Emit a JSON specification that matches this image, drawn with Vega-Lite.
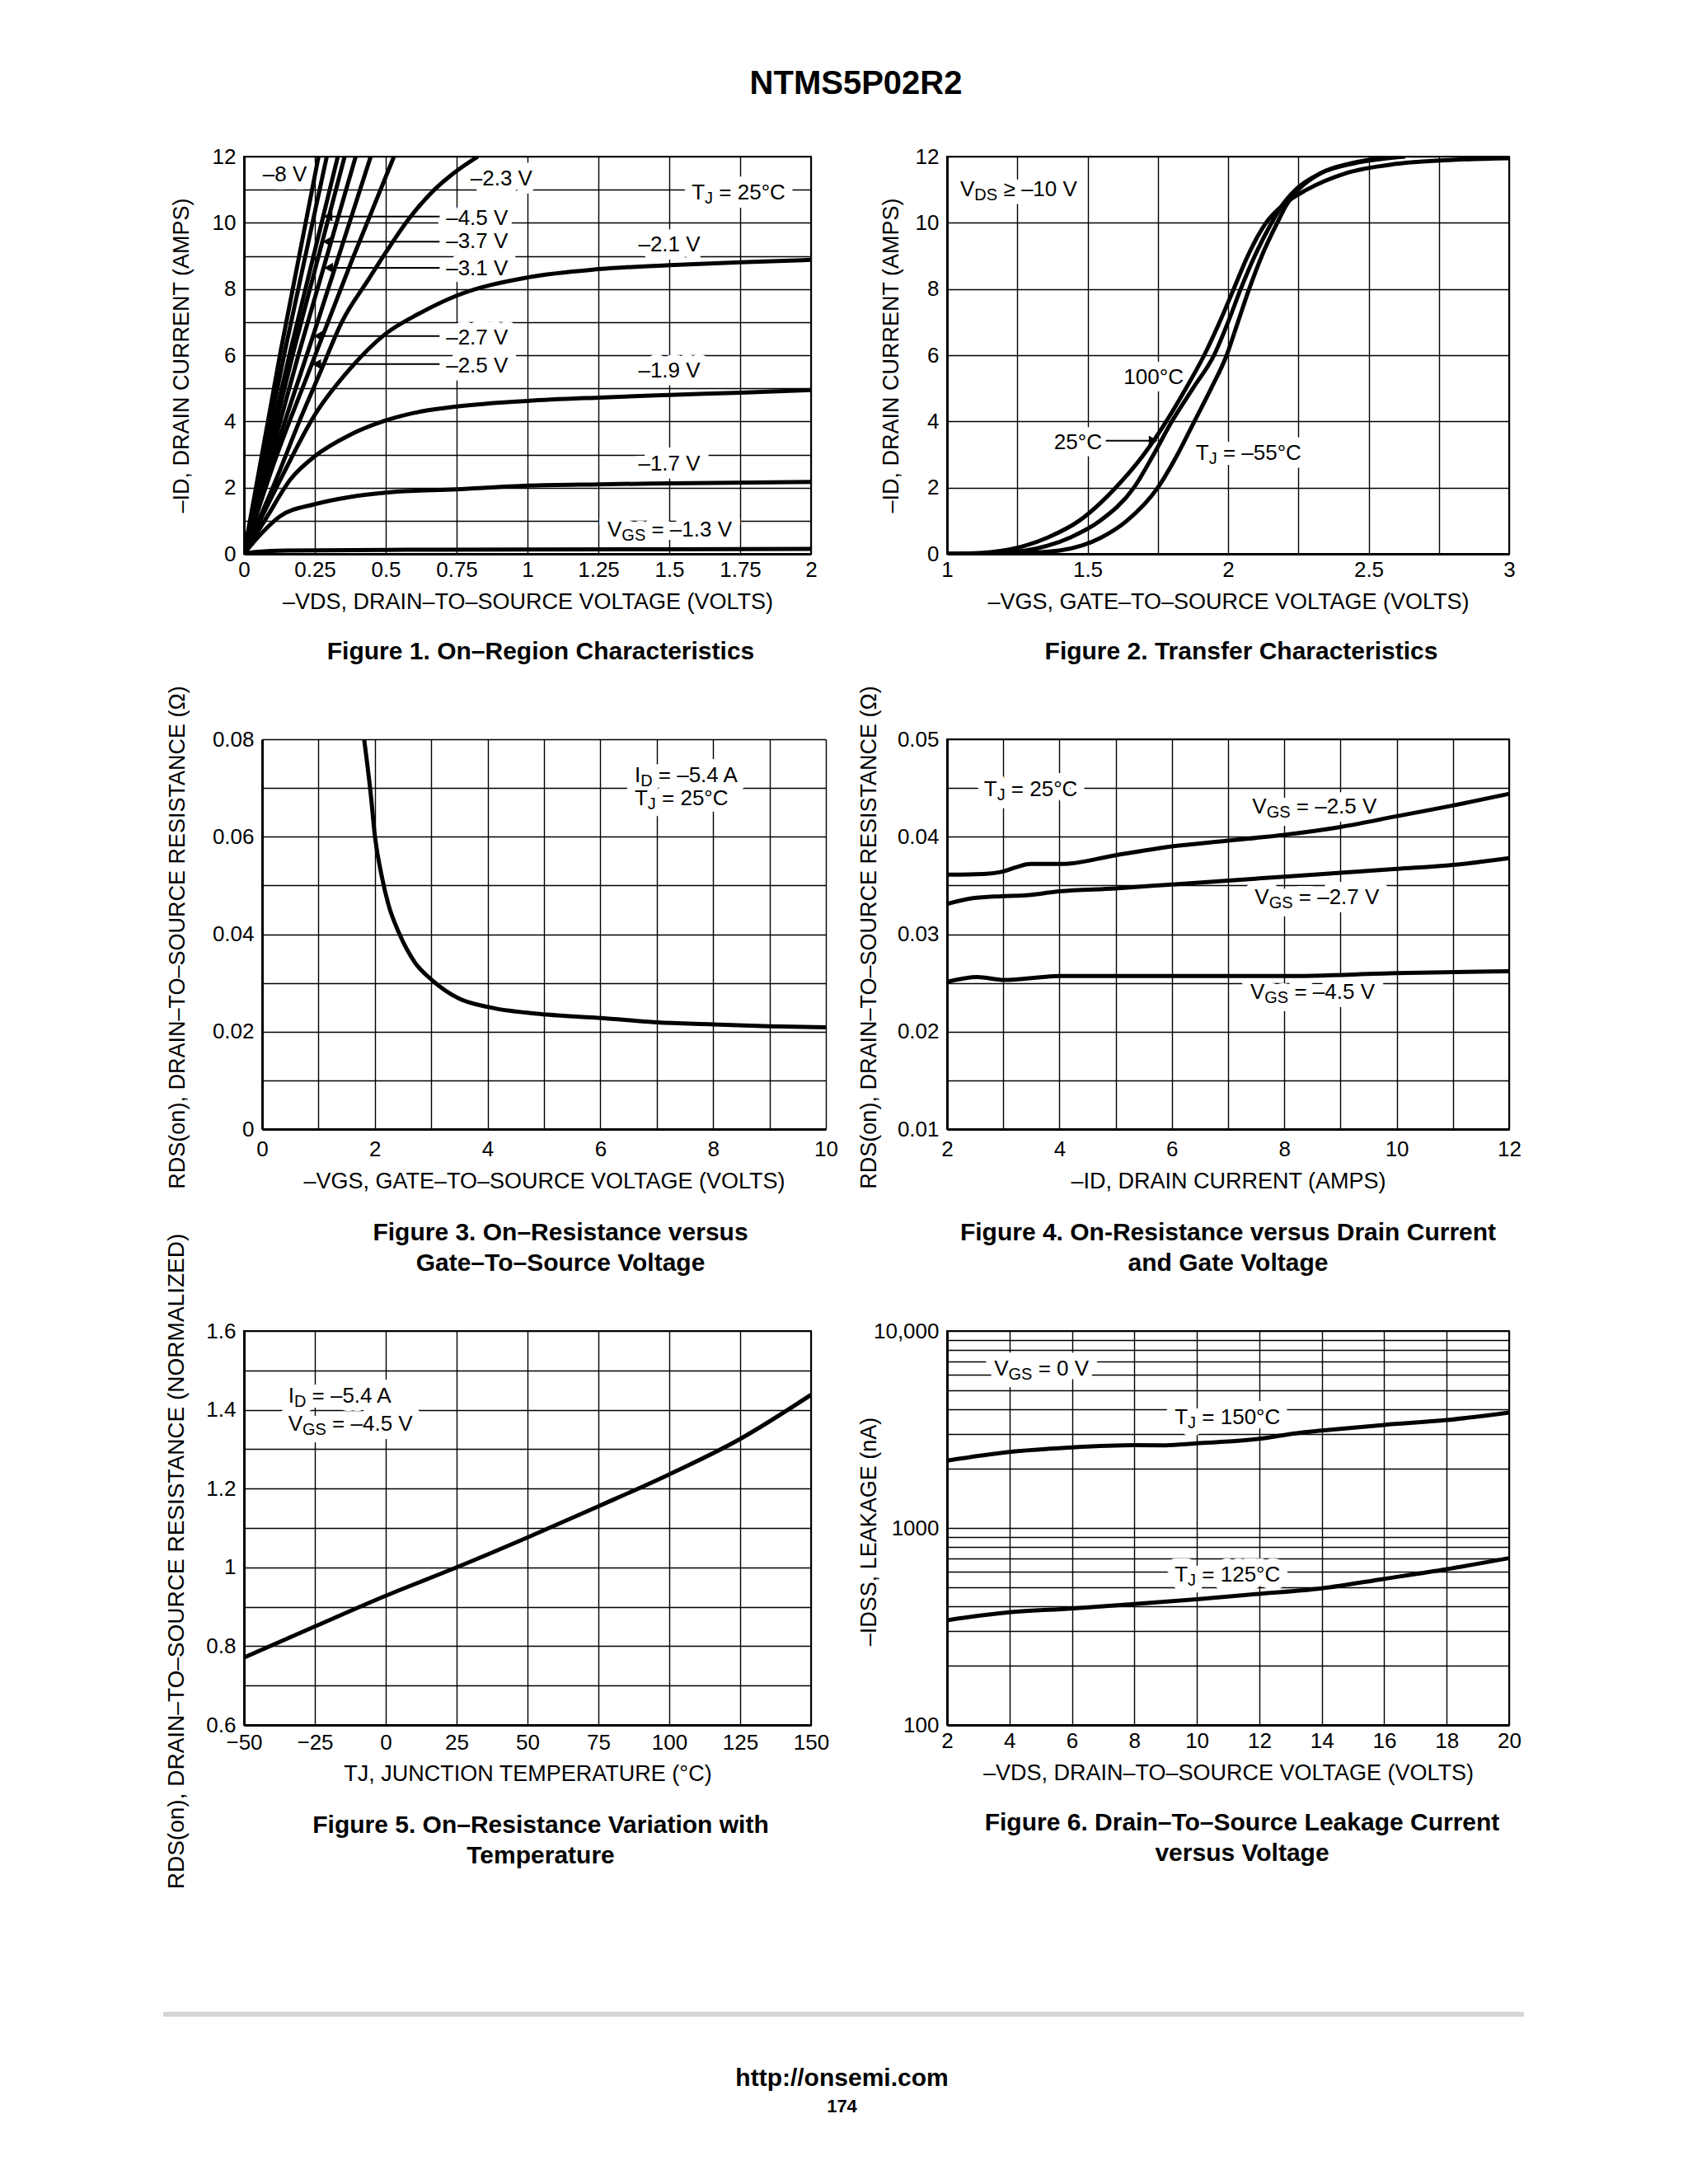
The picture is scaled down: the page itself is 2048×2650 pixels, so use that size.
{
  "$schema": "https://vega.github.io/schema/vega-lite/v6.json",
  "background": "white",
  "autosize": {"type": "pad"},
  "padding": {"left": 198, "top": 82, "right": 10, "bottom": 10},
  "title": {"text": "NTMS5P02R2", "fontSize": 40, "fontWeight": "bold", "anchor": "middle", "offset": 54, "dx": 15},
  "columns": 4,
  "spacing": 0,
  "bounds": "flush",
  "align": "each",
  "datasets": {
    "f1": [
      {"s": "-8", "x": 0, "y": 0}, {"s": "-8", "x": 0.13, "y": 6.15}, {"s": "-8", "x": 0.263, "y": 12},
      {"s": "-6", "x": 0, "y": 0}, {"s": "-6", "x": 0.145, "y": 6.15}, {"s": "-6", "x": 0.292, "y": 12},
      {"s": "-4.5", "x": 0, "y": 0}, {"s": "-4.5", "x": 0.164, "y": 6.15}, {"s": "-4.5", "x": 0.331, "y": 12},
      {"s": "-3.7", "x": 0, "y": 0}, {"s": "-3.7", "x": 0.176, "y": 6.15}, {"s": "-3.7", "x": 0.355, "y": 12},
      {"s": "-3.1", "x": 0, "y": 0}, {"s": "-3.1", "x": 0.195, "y": 6.1}, {"s": "-3.1", "x": 0.394, "y": 12},
      {"s": "-2.7", "x": 0, "y": 0}, {"s": "-2.7", "x": 0.12, "y": 3.35}, {"s": "-2.7", "x": 0.25, "y": 6.75}, {"s": "-2.7", "x": 0.447, "y": 12},
      {"s": "-2.5", "x": 0, "y": 0}, {"s": "-2.5", "x": 0.1, "y": 2.6}, {"s": "-2.5", "x": 0.24, "y": 5.75}, {"s": "-2.5", "x": 0.38, "y": 8.85}, {"s": "-2.5", "x": 0.529, "y": 12},
      {"s": "-2.3", "x": 0, "y": 0}, {"s": "-2.3", "x": 0.116, "y": 2.3}, {"s": "-2.3", "x": 0.2, "y": 4.1}, {"s": "-2.3", "x": 0.27, "y": 5.5}, {"s": "-2.3", "x": 0.345, "y": 7.0}, {"s": "-2.3", "x": 0.44, "y": 8.3}, {"s": "-2.3", "x": 0.5, "y": 9.1}, {"s": "-2.3", "x": 0.58, "y": 10.1}, {"s": "-2.3", "x": 0.66, "y": 10.9}, {"s": "-2.3", "x": 0.74, "y": 11.5}, {"s": "-2.3", "x": 0.825, "y": 12},
      {"s": "-2.1", "x": 0, "y": 0}, {"s": "-2.1", "x": 0.132, "y": 2.3}, {"s": "-2.1", "x": 0.25, "y": 4.2}, {"s": "-2.1", "x": 0.375, "y": 5.6}, {"s": "-2.1", "x": 0.5, "y": 6.65}, {"s": "-2.1", "x": 0.616, "y": 7.25}, {"s": "-2.1", "x": 0.75, "y": 7.8}, {"s": "-2.1", "x": 1, "y": 8.35}, {"s": "-2.1", "x": 1.25, "y": 8.6}, {"s": "-2.1", "x": 1.5, "y": 8.72}, {"s": "-2.1", "x": 1.75, "y": 8.81}, {"s": "-2.1", "x": 2, "y": 8.88},
      {"s": "-1.9", "x": 0, "y": 0}, {"s": "-1.9", "x": 0.08, "y": 1.1}, {"s": "-1.9", "x": 0.166, "y": 2.27}, {"s": "-1.9", "x": 0.25, "y": 2.95}, {"s": "-1.9", "x": 0.375, "y": 3.6}, {"s": "-1.9", "x": 0.5, "y": 4.03}, {"s": "-1.9", "x": 0.625, "y": 4.3}, {"s": "-1.9", "x": 0.75, "y": 4.45}, {"s": "-1.9", "x": 1, "y": 4.62}, {"s": "-1.9", "x": 1.25, "y": 4.72}, {"s": "-1.9", "x": 1.5, "y": 4.8}, {"s": "-1.9", "x": 1.75, "y": 4.87}, {"s": "-1.9", "x": 2, "y": 4.95},
      {"s": "-1.7", "x": 0, "y": 0}, {"s": "-1.7", "x": 0.06, "y": 0.6}, {"s": "-1.7", "x": 0.128, "y": 1.14}, {"s": "-1.7", "x": 0.25, "y": 1.5}, {"s": "-1.7", "x": 0.375, "y": 1.72}, {"s": "-1.7", "x": 0.5, "y": 1.85}, {"s": "-1.7", "x": 0.75, "y": 1.95}, {"s": "-1.7", "x": 1, "y": 2.06}, {"s": "-1.7", "x": 1.25, "y": 2.1}, {"s": "-1.7", "x": 1.5, "y": 2.13}, {"s": "-1.7", "x": 2, "y": 2.17},
      {"s": "-1.3", "x": 0, "y": 0}, {"s": "-1.3", "x": 0.05, "y": 0.06}, {"s": "-1.3", "x": 0.15, "y": 0.1}, {"s": "-1.3", "x": 0.5, "y": 0.12}, {"s": "-1.3", "x": 1, "y": 0.13}, {"s": "-1.3", "x": 2, "y": 0.15}
    ],
    "f1lead": [
      {"x": 0.279, "x2": 0.69, "y": 10.19},
      {"x": 0.276, "x2": 0.69, "y": 9.43},
      {"x": 0.281, "x2": 0.69, "y": 8.64},
      {"x": 0.244, "x2": 0.69, "y": 6.58},
      {"x": 0.239, "x2": 0.69, "y": 5.73}
    ],
    "f1text": [
      {"x": 0.144, "y": 11.45, "t": "–8 V"},
      {"x": 0.908, "y": 11.33, "t": "–2.3 V"},
      {"x": 0.822, "y": 10.14, "t": "–4.5 V"},
      {"x": 0.822, "y": 9.43, "t": "–3.7 V"},
      {"x": 0.822, "y": 8.62, "t": "–3.1 V"},
      {"x": 1.5, "y": 9.33, "t": "–2.1 V"},
      {"x": 0.822, "y": 6.52, "t": "–2.7 V"},
      {"x": 0.822, "y": 5.67, "t": "–2.5 V"},
      {"x": 1.5, "y": 5.52, "t": "–1.9 V"},
      {"x": 1.5, "y": 2.71, "t": "–1.7 V"}
    ],
    "f1s": [
      {"x": 1.282, "y": 0.71, "t": "V", "p": "m"}, {"x": 1.3324, "y": 0.71, "t": "GS", "p": "s"}, {"x": 1.4374, "y": 0.71, "t": "= –1.3 V", "p": "m"},
      {"x": 1.579, "y": 10.9, "t": "T", "p": "m"}, {"x": 1.6252, "y": 10.9, "t": "J", "p": "s"}, {"x": 1.6753, "y": 10.9, "t": "= 25°C", "p": "m"}
    ],
    "f2": [
      {"s": "100", "x": 1.0, "y": 0}, {"s": "100", "x": 1.1, "y": 0.02}, {"s": "100", "x": 1.2, "y": 0.1}, {"s": "100", "x": 1.28, "y": 0.25}, {"s": "100", "x": 1.36, "y": 0.5}, {"s": "100", "x": 1.47, "y": 1.0}, {"s": "100", "x": 1.6, "y": 2.0}, {"s": "100", "x": 1.7, "y": 3.0}, {"s": "100", "x": 1.78, "y": 4.0}, {"s": "100", "x": 1.85, "y": 5.0}, {"s": "100", "x": 1.915, "y": 6.0}, {"s": "100", "x": 1.97, "y": 7.0}, {"s": "100", "x": 2.02, "y": 8.0}, {"s": "100", "x": 2.07, "y": 9.0}, {"s": "100", "x": 2.135, "y": 10.0}, {"s": "100", "x": 2.19, "y": 10.5}, {"s": "100", "x": 2.28, "y": 11.0}, {"s": "100", "x": 2.42, "y": 11.5}, {"s": "100", "x": 2.6, "y": 11.78}, {"s": "100", "x": 2.8, "y": 11.9}, {"s": "100", "x": 3.0, "y": 11.95},
      {"s": "25", "x": 1.0, "y": 0}, {"s": "25", "x": 1.15, "y": 0.02}, {"s": "25", "x": 1.28, "y": 0.1}, {"s": "25", "x": 1.36, "y": 0.25}, {"s": "25", "x": 1.44, "y": 0.5}, {"s": "25", "x": 1.545, "y": 1.0}, {"s": "25", "x": 1.665, "y": 2.0}, {"s": "25", "x": 1.735, "y": 3.0}, {"s": "25", "x": 1.8, "y": 4.0}, {"s": "25", "x": 1.875, "y": 5.0}, {"s": "25", "x": 1.95, "y": 6.0}, {"s": "25", "x": 2.0, "y": 7.0}, {"s": "25", "x": 2.045, "y": 8.0}, {"s": "25", "x": 2.095, "y": 9.0}, {"s": "25", "x": 2.155, "y": 10.0}, {"s": "25", "x": 2.19, "y": 10.5}, {"s": "25", "x": 2.24, "y": 11.0}, {"s": "25", "x": 2.33, "y": 11.5}, {"s": "25", "x": 2.45, "y": 11.8}, {"s": "25", "x": 2.63, "y": 12.0},
      {"s": "-55", "x": 1.0, "y": 0}, {"s": "-55", "x": 1.25, "y": 0.02}, {"s": "-55", "x": 1.4, "y": 0.1}, {"s": "-55", "x": 1.48, "y": 0.25}, {"s": "-55", "x": 1.55, "y": 0.5}, {"s": "-55", "x": 1.64, "y": 1.0}, {"s": "-55", "x": 1.75, "y": 2.0}, {"s": "-55", "x": 1.82, "y": 3.0}, {"s": "-55", "x": 1.88, "y": 4.0}, {"s": "-55", "x": 1.94, "y": 5.0}, {"s": "-55", "x": 1.995, "y": 6.0}, {"s": "-55", "x": 2.035, "y": 7.0}, {"s": "-55", "x": 2.075, "y": 8.0}, {"s": "-55", "x": 2.12, "y": 9.0}, {"s": "-55", "x": 2.175, "y": 10.0}, {"s": "-55", "x": 2.205, "y": 10.5}, {"s": "-55", "x": 2.25, "y": 11.0}, {"s": "-55", "x": 2.33, "y": 11.5}, {"s": "-55", "x": 2.44, "y": 11.8}, {"s": "-55", "x": 2.6, "y": 12.0}
    ],
    "f2lead": [{"x": 1.565, "x2": 1.745, "y": 3.42}],
    "f2arrow": [{"x": 1.751, "y": 3.42}],
    "f2text": [
      {"x": 1.735, "y": 5.32, "t": "100°C"},
      {"x": 1.466, "y": 3.37, "t": "25°C"}
    ],
    "f2s": [
      {"x": 1.047, "y": 11.0, "t": "V", "p": "m"}, {"x": 1.0978, "y": 11.0, "t": "DS", "p": "s"}, {"x": 1.2006, "y": 11.0, "t": "≥ –10 V", "p": "m"},
      {"x": 1.885, "y": 3.03, "t": "T", "p": "m"}, {"x": 1.9316, "y": 3.03, "t": "J", "p": "s"}, {"x": 1.9821, "y": 3.03, "t": "= –55°C", "p": "m"}
    ],
    "f3": [
      {"x": 1.81, "y": 0.08}, {"x": 1.93, "y": 0.0684}, {"x": 2.0, "y": 0.0602}, {"x": 2.12, "y": 0.052}, {"x": 2.24, "y": 0.0461}, {"x": 2.43, "y": 0.0402}, {"x": 2.71, "y": 0.0342}, {"x": 3.02, "y": 0.0305}, {"x": 3.49, "y": 0.0268}, {"x": 4.03, "y": 0.025}, {"x": 5.05, "y": 0.0235}, {"x": 6.02, "y": 0.0228}, {"x": 7.0, "y": 0.0219}, {"x": 8.0, "y": 0.0215}, {"x": 9.0, "y": 0.0211}, {"x": 10.0, "y": 0.0209}
    ],
    "f3s": [
      {"x": 6.607, "y": 0.0726, "t": "I", "p": "m"}, {"x": 6.7127, "y": 0.0726, "t": "D", "p": "s"}, {"x": 7.0289, "y": 0.0726, "t": "= –5.4 A", "p": "m"},
      {"x": 6.607, "y": 0.0678, "t": "T", "p": "m"}, {"x": 6.8393, "y": 0.0678, "t": "J", "p": "s"}, {"x": 7.0912, "y": 0.0678, "t": "= 25°C", "p": "m"}
    ],
    "f4": [
      {"s": "-2.5", "x": 2, "y": 0.0361}, {"s": "-2.5", "x": 2.7, "y": 0.0362}, {"s": "-2.5", "x": 2.97, "y": 0.0364}, {"s": "-2.5", "x": 3.25, "y": 0.0369}, {"s": "-2.5", "x": 3.48, "y": 0.0372}, {"s": "-2.5", "x": 4.04, "y": 0.0372}, {"s": "-2.5", "x": 5.0, "y": 0.0381}, {"s": "-2.5", "x": 6.0, "y": 0.039}, {"s": "-2.5", "x": 7.0, "y": 0.0396}, {"s": "-2.5", "x": 8.0, "y": 0.0402}, {"s": "-2.5", "x": 9.0, "y": 0.041}, {"s": "-2.5", "x": 10.0, "y": 0.0421}, {"s": "-2.5", "x": 11.0, "y": 0.0432}, {"s": "-2.5", "x": 12, "y": 0.0444},
      {"s": "-2.7", "x": 2, "y": 0.0331}, {"s": "-2.7", "x": 2.46, "y": 0.0337}, {"s": "-2.7", "x": 2.97, "y": 0.0339}, {"s": "-2.7", "x": 3.41, "y": 0.034}, {"s": "-2.7", "x": 4.0, "y": 0.0344}, {"s": "-2.7", "x": 5.0, "y": 0.0347}, {"s": "-2.7", "x": 6.0, "y": 0.0351}, {"s": "-2.7", "x": 7.0, "y": 0.0355}, {"s": "-2.7", "x": 8.0, "y": 0.0359}, {"s": "-2.7", "x": 9.0, "y": 0.0363}, {"s": "-2.7", "x": 10.0, "y": 0.0367}, {"s": "-2.7", "x": 11.0, "y": 0.0371}, {"s": "-2.7", "x": 12, "y": 0.0378},
      {"s": "-4.5", "x": 2, "y": 0.0251}, {"s": "-4.5", "x": 2.54, "y": 0.0256}, {"s": "-4.5", "x": 3.01, "y": 0.0253}, {"s": "-4.5", "x": 4.0, "y": 0.0257}, {"s": "-4.5", "x": 6.0, "y": 0.0257}, {"s": "-4.5", "x": 8.0, "y": 0.0257}, {"s": "-4.5", "x": 10.0, "y": 0.026}, {"s": "-4.5", "x": 12, "y": 0.0262}
    ],
    "f4s": [
      {"x": 2.656, "y": 0.0448, "t": "T", "p": "m"}, {"x": 2.889, "y": 0.0448, "t": "J", "p": "s"}, {"x": 3.1416, "y": 0.0448, "t": "= 25°C", "p": "m"},
      {"x": 7.43, "y": 0.0431, "t": "V", "p": "m"}, {"x": 7.6843, "y": 0.0431, "t": "GS", "p": "s"}, {"x": 8.214, "y": 0.0431, "t": "= –2.5 V", "p": "m"},
      {"x": 7.474, "y": 0.0338, "t": "V", "p": "m"}, {"x": 7.7283, "y": 0.0338, "t": "GS", "p": "s"}, {"x": 8.258, "y": 0.0338, "t": "= –2.7 V", "p": "m"},
      {"x": 7.395, "y": 0.024, "t": "V", "p": "m"}, {"x": 7.6493, "y": 0.024, "t": "GS", "p": "s"}, {"x": 8.179, "y": 0.024, "t": "= –4.5 V", "p": "m"}
    ],
    "f5": [
      {"x": -50, "y": 0.771}, {"x": -25, "y": 0.85}, {"x": 0, "y": 0.928}, {"x": 25, "y": 1.0}, {"x": 50, "y": 1.076}, {"x": 75, "y": 1.155}, {"x": 100, "y": 1.236}, {"x": 125, "y": 1.326}, {"x": 150, "y": 1.438}
    ],
    "f5s": [
      {"x": -34.4, "y": 1.434, "t": "I", "p": "m"}, {"x": -32.3, "y": 1.434, "t": "D", "p": "s"}, {"x": -26.01, "y": 1.434, "t": "= –5.4 A", "p": "m"},
      {"x": -34.4, "y": 1.364, "t": "V", "p": "m"}, {"x": -29.36, "y": 1.364, "t": "GS", "p": "s"}, {"x": -18.86, "y": 1.364, "t": "= –4.5 V", "p": "m"}
    ],
    "f6": [
      {"s": "150", "x": 2, "y": 2198}, {"s": "150", "x": 4, "y": 2432}, {"s": "150", "x": 6, "y": 2564}, {"s": "150", "x": 8, "y": 2632}, {"s": "150", "x": 9, "y": 2630}, {"s": "150", "x": 10, "y": 2692}, {"s": "150", "x": 11.4, "y": 2776}, {"s": "150", "x": 12, "y": 2838}, {"s": "150", "x": 13.2, "y": 3030}, {"s": "150", "x": 14, "y": 3123}, {"s": "150", "x": 16, "y": 3337}, {"s": "150", "x": 18, "y": 3530}, {"s": "150", "x": 20, "y": 3855},
      {"s": "125", "x": 2, "y": 340}, {"s": "125", "x": 4, "y": 373}, {"s": "125", "x": 6, "y": 390}, {"s": "125", "x": 8, "y": 411}, {"s": "125", "x": 10, "y": 435}, {"s": "125", "x": 12, "y": 463}, {"s": "125", "x": 14, "y": 494}, {"s": "125", "x": 16, "y": 552}, {"s": "125", "x": 18, "y": 618}, {"s": "125", "x": 20, "y": 703}
    ],
    "f6s": [
      {"x": 3.51, "y": 6397, "t": "V", "p": "m"}, {"x": 3.9676, "y": 6397, "t": "GS", "p": "s"}, {"x": 4.9212, "y": 6397, "t": "= 0 V", "p": "m"},
      {"x": 9.29, "y": 3642, "t": "T", "p": "m"}, {"x": 9.7094, "y": 3642, "t": "J", "p": "s"}, {"x": 10.1641, "y": 3642, "t": "= 150°C", "p": "m"},
      {"x": 9.29, "y": 580, "t": "T", "p": "m"}, {"x": 9.7094, "y": 580, "t": "J", "p": "s"}, {"x": 10.1641, "y": 580, "t": "= 125°C", "p": "m"}
    ]
  },
  "concat": [
    {"width": 98, "height": 707, "data": {"values": []}, "mark": "point", "encoding": {}},
    {
      "width": 688, "height": 482,
      "view": {"stroke": "black", "strokeWidth": 2},
      "title": {"text": "Figure 1. On–Region Characteristics", "orient": "bottom", "anchor": "middle", "frame": "group", "offset": 33, "dx": 16},
      "encoding": {
        "x": {"field": "x", "type": "quantitative", "scale": {"domain": [0, 2], "nice": false, "zero": false},
              "axis": {"title": "–VDS, DRAIN–TO–SOURCE VOLTAGE (VOLTS)", "values": [0, 0.25, 0.5, 0.75, 1, 1.25, 1.5, 1.75, 2], "labelExpr": "format(datum.value, '~g')", "titleY": 58}},
        "y": {"field": "y", "type": "quantitative", "scale": {"domain": [0, 12], "nice": false},
              "axis": {"title": "–ID, DRAIN CURRENT (AMPS)", "values": [0, 1, 2, 3, 4, 5, 6, 7, 8, 9, 10, 11, 12], "labelExpr": "datum.value % 2 == 0 ? format(datum.value, '~g') : ''", "titleX": -76, "titleY": 241}}
      },
      "layer": [
        {"data": {"name": "f1text"}, "mark": {"type": "text", "fontSize": 26, "color": "white", "stroke": "white", "strokeWidth": 20, "strokeJoin": "round"}, "encoding": {"text": {"field": "t"}}},
        {"data": {"name": "f1s"}, "transform": [{"filter": "datum.p == 'm'"}], "mark": {"type": "text", "align": "left", "fontSize": 26, "color": "white", "stroke": "white", "strokeWidth": 20, "strokeJoin": "round"}, "encoding": {"text": {"field": "t"}}},
        {"data": {"name": "f1s"}, "transform": [{"filter": "datum.p == 's'"}], "mark": {"type": "text", "align": "left", "dy": 7, "fontSize": 20, "color": "white", "stroke": "white", "strokeWidth": 20, "strokeJoin": "round"}, "encoding": {"text": {"field": "t"}}},
        {"data": {"name": "f1"}, "mark": {"type": "line", "color": "black", "strokeWidth": 5, "interpolate": "monotone", "clip": true}, "encoding": {"detail": {"field": "s"}}},
        {"data": {"name": "f1lead"}, "mark": {"type": "rule", "color": "black", "strokeWidth": 2}, "encoding": {"x2": {"field": "x2"}}},
        {"data": {"name": "f1lead"}, "mark": {"type": "point", "shape": "triangle-left", "filled": true, "color": "black", "opacity": 1, "size": 150, "xOffset": 6}, "encoding": {}},
        {"data": {"name": "f1text"}, "mark": {"type": "text", "fontSize": 26, "color": "black"}, "encoding": {"text": {"field": "t"}}},
        {"data": {"name": "f1s"}, "transform": [{"filter": "datum.p == 'm'"}], "mark": {"type": "text", "align": "left", "fontSize": 26, "color": "black"}, "encoding": {"text": {"field": "t"}}},
        {"data": {"name": "f1s"}, "transform": [{"filter": "datum.p == 's'"}], "mark": {"type": "text", "align": "left", "dy": 7, "fontSize": 20, "color": "black"}, "encoding": {"text": {"field": "t"}}}
      ]
    },
    {"width": 147, "height": 1, "data": {"values": []}, "mark": "point", "encoding": {}},
    {
      "width": 682, "height": 482,
      "view": {"stroke": "black", "strokeWidth": 2},
      "title": {"text": "Figure 2. Transfer Characteristics", "orient": "bottom", "anchor": "middle", "frame": "group", "offset": 33, "dx": 16},
      "encoding": {
        "x": {"field": "x", "type": "quantitative", "scale": {"domain": [1, 3], "nice": false, "zero": false},
              "axis": {"title": "–VGS, GATE–TO–SOURCE VOLTAGE (VOLTS)", "values": [1, 1.25, 1.5, 1.75, 2, 2.25, 2.5, 2.75, 3], "labelExpr": "round(datum.value * 4) % 2 == 0 ? format(datum.value, '~g') : ''", "titleY": 58}},
        "y": {"field": "y", "type": "quantitative", "scale": {"domain": [0, 12], "nice": false},
              "axis": {"title": "–ID, DRAIN CURRENT (AMPS)", "values": [0, 2, 4, 6, 8, 10, 12], "labelExpr": "format(datum.value, '~g')", "titleX": -68, "titleY": 241}}
      },
      "layer": [
        {"data": {"name": "f2text"}, "mark": {"type": "text", "fontSize": 26, "color": "white", "stroke": "white", "strokeWidth": 20, "strokeJoin": "round"}, "encoding": {"text": {"field": "t"}}},
        {"data": {"name": "f2s"}, "transform": [{"filter": "datum.p == 'm'"}], "mark": {"type": "text", "align": "left", "fontSize": 26, "color": "white", "stroke": "white", "strokeWidth": 20, "strokeJoin": "round"}, "encoding": {"text": {"field": "t"}}},
        {"data": {"name": "f2s"}, "transform": [{"filter": "datum.p == 's'"}], "mark": {"type": "text", "align": "left", "dy": 7, "fontSize": 20, "color": "white", "stroke": "white", "strokeWidth": 20, "strokeJoin": "round"}, "encoding": {"text": {"field": "t"}}},
        {"data": {"name": "f2"}, "mark": {"type": "line", "color": "black", "strokeWidth": 5, "interpolate": "monotone", "clip": true}, "encoding": {"detail": {"field": "s"}}},
        {"data": {"name": "f2lead"}, "mark": {"type": "rule", "color": "black", "strokeWidth": 2}, "encoding": {"x2": {"field": "x2"}}},
        {"data": {"name": "f2arrow"}, "mark": {"type": "point", "shape": "triangle-right", "filled": true, "color": "black", "opacity": 1, "size": 150, "xOffset": -6}, "encoding": {}},
        {"data": {"name": "f2text"}, "mark": {"type": "text", "fontSize": 26, "color": "black"}, "encoding": {"text": {"field": "t"}}},
        {"data": {"name": "f2s"}, "transform": [{"filter": "datum.p == 'm'"}], "mark": {"type": "text", "align": "left", "fontSize": 26, "color": "black"}, "encoding": {"text": {"field": "t"}}},
        {"data": {"name": "f2s"}, "transform": [{"filter": "datum.p == 's'"}], "mark": {"type": "text", "align": "left", "dy": 7, "fontSize": 20, "color": "black"}, "encoding": {"text": {"field": "t"}}}
      ]
    },
    {"width": 98, "height": 718, "data": {"values": []}, "mark": "point", "encoding": {}},
    {
      "width": 706, "height": 473,
      "title": {"text": ["Figure 3. On–Resistance versus", "Gate–To–Source Voltage"], "orient": "bottom", "anchor": "middle", "frame": "group", "offset": 35, "dx": 31, "lineHeight": 37},
      "encoding": {
        "x": {"field": "x", "type": "quantitative", "scale": {"domain": [0, 10], "range": [22, 706], "nice": false, "zero": false},
              "axis": {"title": "–VGS, GATE–TO–SOURCE VOLTAGE (VOLTS)", "values": [0, 1, 2, 3, 4, 5, 6, 7, 8, 9, 10], "labelExpr": "datum.value % 2 == 0 ? format(datum.value, '~g') : ''", "labelPadding": 11, "titleY": 63}},
        "y": {"field": "y", "type": "quantitative", "scale": {"domain": [0, 0.08], "nice": false},
              "axis": {"title": "RDS(on), DRAIN–TO–SOURCE RESISTANCE (Ω)", "offset": -22, "values": [0, 0.01, 0.02, 0.03, 0.04, 0.05, 0.06, 0.07, 0.08], "labelExpr": "round(datum.value * 100) % 2 == 0 ? format(datum.value, '~g') : ''", "titleX": -103, "titleY": 240}}
      },
      "layer": [
        {"data": {"name": "f3s"}, "transform": [{"filter": "datum.p == 'm'"}], "mark": {"type": "text", "align": "left", "fontSize": 26, "color": "white", "stroke": "white", "strokeWidth": 20, "strokeJoin": "round"}, "encoding": {"text": {"field": "t"}}},
        {"data": {"name": "f3s"}, "transform": [{"filter": "datum.p == 's'"}], "mark": {"type": "text", "align": "left", "dy": 7, "fontSize": 20, "color": "white", "stroke": "white", "strokeWidth": 20, "strokeJoin": "round"}, "encoding": {"text": {"field": "t"}}},
        {"data": {"name": "f3"}, "mark": {"type": "line", "color": "black", "strokeWidth": 5, "interpolate": "monotone", "clip": true}, "encoding": {}},
        {"data": {"name": "f3s"}, "transform": [{"filter": "datum.p == 'm'"}], "mark": {"type": "text", "align": "left", "fontSize": 26, "color": "black"}, "encoding": {"text": {"field": "t"}}},
        {"data": {"name": "f3s"}, "transform": [{"filter": "datum.p == 's'"}], "mark": {"type": "text", "align": "left", "dy": 7, "fontSize": 20, "color": "black"}, "encoding": {"text": {"field": "t"}}}
      ]
    },
    {"width": 147, "height": 1, "data": {"values": []}, "mark": "point", "encoding": {}},
    {
      "width": 682, "height": 473,
      "view": {"stroke": "black", "strokeWidth": 2},
      "title": {"text": ["Figure 4. On-Resistance versus Drain Current", "and Gate Voltage"], "orient": "bottom", "anchor": "middle", "frame": "group", "offset": 35, "dx": 0, "lineHeight": 37},
      "encoding": {
        "x": {"field": "x", "type": "quantitative", "scale": {"domain": [2, 12], "nice": false, "zero": false},
              "axis": {"title": "–ID, DRAIN CURRENT (AMPS)", "values": [2, 3, 4, 5, 6, 7, 8, 9, 10, 11, 12], "labelExpr": "datum.value % 2 == 0 ? format(datum.value, '~g') : ''", "labelPadding": 11, "titleY": 63}},
        "y": {"field": "y", "type": "quantitative", "scale": {"domain": [0.01, 0.05], "nice": false, "zero": false},
              "axis": {"title": "RDS(on), DRAIN–TO–SOURCE RESISTANCE (Ω)", "values": [0.01, 0.015, 0.02, 0.025, 0.03, 0.035, 0.04, 0.045, 0.05], "labelExpr": "round(datum.value * 1000) % 10 == 0 ? format(datum.value, '~g') : ''", "titleX": -95, "titleY": 240}}
      },
      "layer": [
        {"data": {"name": "f4s"}, "transform": [{"filter": "datum.p == 'm'"}], "mark": {"type": "text", "align": "left", "fontSize": 26, "color": "white", "stroke": "white", "strokeWidth": 20, "strokeJoin": "round"}, "encoding": {"text": {"field": "t"}}},
        {"data": {"name": "f4s"}, "transform": [{"filter": "datum.p == 's'"}], "mark": {"type": "text", "align": "left", "dy": 7, "fontSize": 20, "color": "white", "stroke": "white", "strokeWidth": 20, "strokeJoin": "round"}, "encoding": {"text": {"field": "t"}}},
        {"data": {"name": "f4"}, "mark": {"type": "line", "color": "black", "strokeWidth": 5, "interpolate": "monotone", "clip": true}, "encoding": {"detail": {"field": "s"}}},
        {"data": {"name": "f4s"}, "transform": [{"filter": "datum.p == 'm'"}], "mark": {"type": "text", "align": "left", "fontSize": 26, "color": "black"}, "encoding": {"text": {"field": "t"}}},
        {"data": {"name": "f4s"}, "transform": [{"filter": "datum.p == 's'"}], "mark": {"type": "text", "align": "left", "dy": 7, "fontSize": 20, "color": "black"}, "encoding": {"text": {"field": "t"}}}
      ]
    },
    {"width": 98, "height": 826, "data": {"values": []}, "mark": "point", "encoding": {}},
    {
      "width": 688, "height": 478,
      "view": {"stroke": "black", "strokeWidth": 2},
      "title": {"text": ["Figure 5. On–Resistance Variation with", "Temperature"], "orient": "bottom", "anchor": "middle", "frame": "group", "offset": -92, "dx": 16, "lineHeight": 37},
      "encoding": {
        "x": {"field": "x", "type": "quantitative", "scale": {"domain": [-50, 150], "nice": false, "zero": false},
              "axis": {"title": "TJ, JUNCTION TEMPERATURE (°C)", "values": [-50, -25, 0, 25, 50, 75, 100, 125, 150], "labelExpr": "format(datum.value, '~g')", "labelPadding": 8, "titleY": 59}},
        "y": {"field": "y", "type": "quantitative", "scale": {"domain": [0.6, 1.6], "nice": false, "zero": false},
              "axis": {"title": "RDS(on), DRAIN–TO–SOURCE RESISTANCE (NORMALIZED)", "titleFontSize": 28, "values": [0.6, 0.7, 0.8, 0.9, 1, 1.1, 1.2, 1.3, 1.4, 1.5, 1.6], "labelExpr": "round(datum.value * 10) % 2 == 0 ? format(datum.value, '~g') : ''", "titleX": -82, "titleY": 279}}
      },
      "layer": [
        {"data": {"name": "f5s"}, "transform": [{"filter": "datum.p == 'm'"}], "mark": {"type": "text", "align": "left", "fontSize": 26, "color": "white", "stroke": "white", "strokeWidth": 20, "strokeJoin": "round"}, "encoding": {"text": {"field": "t"}}},
        {"data": {"name": "f5s"}, "transform": [{"filter": "datum.p == 's'"}], "mark": {"type": "text", "align": "left", "dy": 7, "fontSize": 20, "color": "white", "stroke": "white", "strokeWidth": 20, "strokeJoin": "round"}, "encoding": {"text": {"field": "t"}}},
        {"data": {"name": "f5"}, "mark": {"type": "line", "color": "black", "strokeWidth": 5, "interpolate": "monotone", "clip": true}, "encoding": {}},
        {"data": {"name": "f5s"}, "transform": [{"filter": "datum.p == 'm'"}], "mark": {"type": "text", "align": "left", "fontSize": 26, "color": "black"}, "encoding": {"text": {"field": "t"}}},
        {"data": {"name": "f5s"}, "transform": [{"filter": "datum.p == 's'"}], "mark": {"type": "text", "align": "left", "dy": 7, "fontSize": 20, "color": "black"}, "encoding": {"text": {"field": "t"}}}
      ]
    },
    {"width": 147, "height": 1, "data": {"values": []}, "mark": "point", "encoding": {}},
    {
      "width": 682, "height": 478,
      "view": {"stroke": "black", "strokeWidth": 2},
      "title": {"text": ["Figure 6. Drain–To–Source Leakage Current", "versus Voltage"], "orient": "bottom", "anchor": "middle", "frame": "group", "offset": 33, "dx": 17, "lineHeight": 37},
      "encoding": {
        "x": {"field": "x", "type": "quantitative", "scale": {"domain": [2, 20], "nice": false, "zero": false},
              "axis": {"title": "–VDS, DRAIN–TO–SOURCE VOLTAGE (VOLTS)", "values": [2, 4, 6, 8, 10, 12, 14, 16, 18, 20], "labelExpr": "format(datum.value, '~g')", "titleY": 58}},
        "y": {"field": "y", "type": "quantitative", "scale": {"type": "log", "domain": [100, 10000], "nice": false},
              "axis": {"title": "–IDSS, LEAKAGE (nA)", "values": [100, 200, 300, 400, 500, 600, 700, 800, 900, 1000, 2000, 3000, 4000, 5000, 6000, 7000, 8000, 9000, 10000], "labelExpr": "datum.value == 10000 ? '10,000' : (datum.value == 1000 ? '1000' : (datum.value == 100 ? '100' : ''))", "titleX": -95, "titleY": 243}}
      },
      "layer": [
        {"data": {"name": "f6s"}, "transform": [{"filter": "datum.p == 'm'"}], "mark": {"type": "text", "align": "left", "fontSize": 26, "color": "white", "stroke": "white", "strokeWidth": 20, "strokeJoin": "round"}, "encoding": {"text": {"field": "t"}}},
        {"data": {"name": "f6s"}, "transform": [{"filter": "datum.p == 's'"}], "mark": {"type": "text", "align": "left", "dy": 7, "fontSize": 20, "color": "white", "stroke": "white", "strokeWidth": 20, "strokeJoin": "round"}, "encoding": {"text": {"field": "t"}}},
        {"data": {"name": "f6"}, "mark": {"type": "line", "color": "black", "strokeWidth": 5, "interpolate": "monotone", "clip": true}, "encoding": {"detail": {"field": "s"}}},
        {"data": {"name": "f6s"}, "transform": [{"filter": "datum.p == 'm'"}], "mark": {"type": "text", "align": "left", "fontSize": 26, "color": "black"}, "encoding": {"text": {"field": "t"}}},
        {"data": {"name": "f6s"}, "transform": [{"filter": "datum.p == 's'"}], "mark": {"type": "text", "align": "left", "dy": 7, "fontSize": 20, "color": "black"}, "encoding": {"text": {"field": "t"}}}
      ]
    },
    {"width": 98, "height": 6, "data": {"values": []}, "mark": "point", "encoding": {}, "view": {"fill": "#d6d6d6", "stroke": null}},
    {"width": 706, "height": 6, "data": {"values": []}, "mark": "point", "encoding": {}, "view": {"fill": "#d6d6d6", "stroke": null}},
    {
      "width": 147, "height": 6,
      "data": {"values": []}, "mark": "point", "encoding": {},
      "view": {"fill": "#d6d6d6", "stroke": null},
      "title": {"text": "http://onsemi.com", "subtitle": "174", "orient": "bottom", "anchor": "middle", "frame": "group", "offset": 60, "dx": -54, "fontSize": 30, "fontWeight": "bold", "subtitleFontSize": 22, "subtitleFontWeight": "bold", "subtitleColor": "black", "subtitleFont": "Liberation Sans", "subtitlePadding": 9}
    },
    {"width": 700, "height": 6, "data": {"values": []}, "mark": "point", "encoding": {}, "view": {"fill": "#d6d6d6", "stroke": null}}
  ],
  "config": {
    "font": "Liberation Sans",
    "view": {"stroke": null},
    "concat": {"spacing": 0},
    "title": {"font": "Liberation Sans", "fontSize": 30, "fontWeight": "bold", "color": "black"},
    "text": {"font": "Liberation Sans"},
    "axis": {
      "domainColor": "black", "domainWidth": 3,
      "grid": true, "gridColor": "black", "gridWidth": 1.4, "gridOpacity": 1,
      "ticks": false,
      "labelFont": "Liberation Sans", "labelFontSize": 26, "labelColor": "black",
      "labelOverlap": false, "labelFlush": false, "labelBound": false,
      "titleFont": "Liberation Sans", "titleFontSize": 27, "titleFontWeight": "normal", "titleColor": "black",
      "titleBaseline": "middle"
    },
    "axisX": {"labelPadding": 6},
    "axisY": {"labelPadding": 10}
  }
}
